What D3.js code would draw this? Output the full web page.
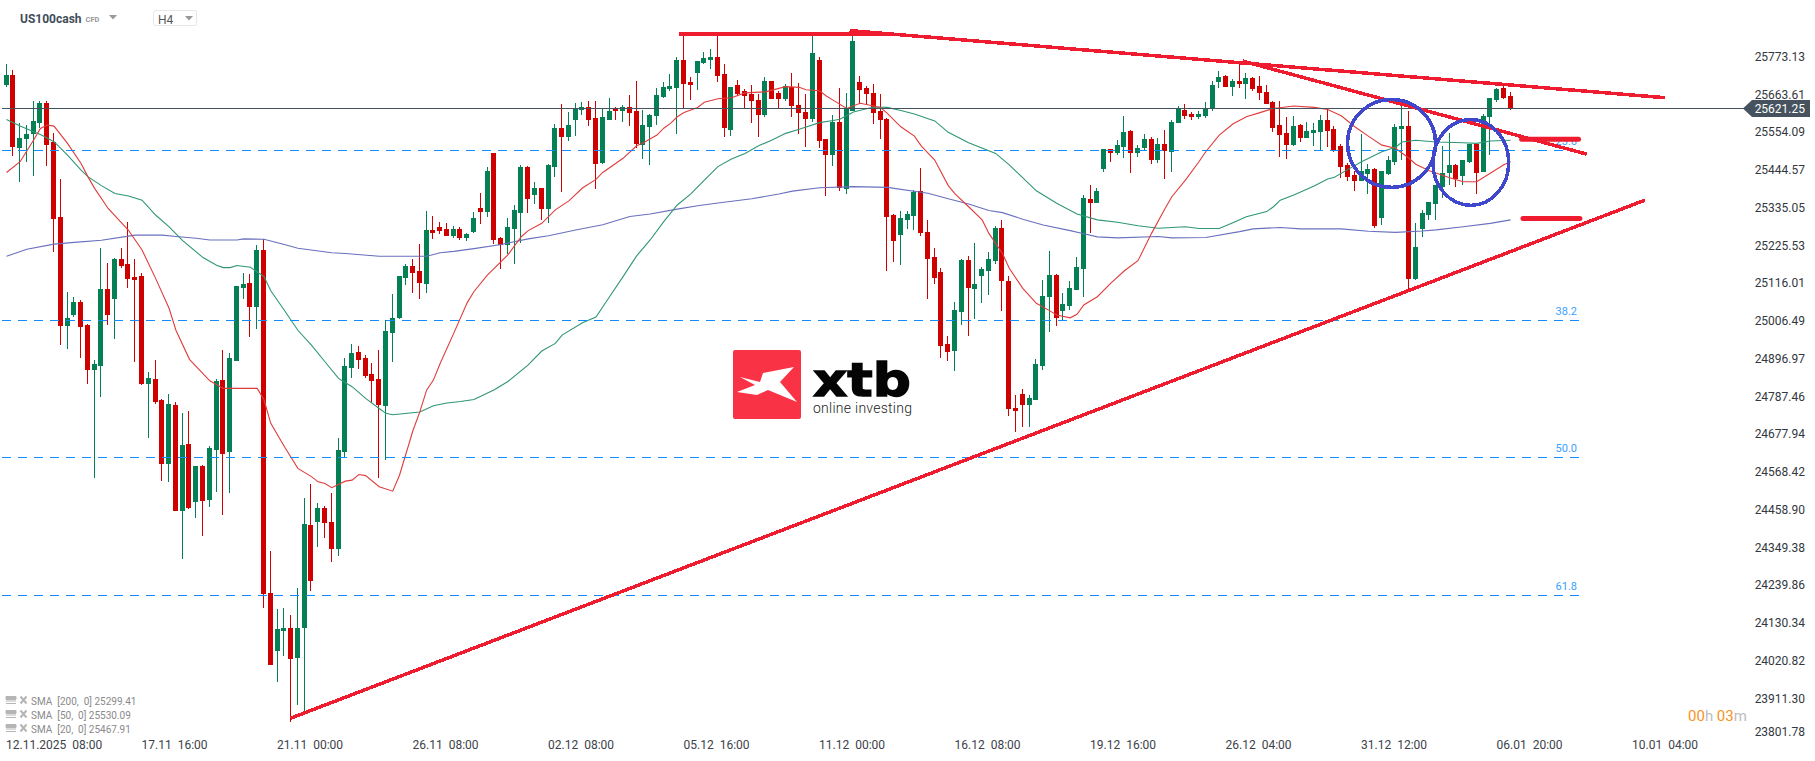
<!DOCTYPE html>
<html>
<head>
<meta charset="utf-8">
<title>US100cash H4</title>
<script src="https://cdnjs.cloudflare.com/ajax/libs/d3/7.8.5/d3.min.js"></script>
<style>
  html, body { margin: 0; padding: 0; background: #fff; }
  svg { display: block; }
  text { font-family: Roboto, sans-serif; }
</style>
</head>
<body>
<div id="chart"></div>
<script>
// candles (one per 4 hours)
var open = [
  25690,25719,25508,25534,25548,25580,25638,25525,25308,24993,
  25025,25063,24996,24866,24878,25100,25071,25187,25173,25135,
  25138,24826,24840,24780,24595,24765,24459,24652,24485,24589,
  24491,24635,24837,24629,24892,25103,25118,25048,25213,24222,
  24054,24112,24121,24034,24121,24418,24427,24468,24427,24349,
  24629,24872,24918,24901,24855,24840,24762,24973,25016,25132,
  25167,25152,25115,25271,25279,25274,25253,25274,25248,25265,
  25334,25323,25493,25248,25227,25274,25320,25453,25372,25392,
  25331,25453,25565,25539,25589,25618,25626,25594,25464,25589,
  25623,25615,25626,25615,25516,25568,25600,25655,25678,25681,
  25762,25698,25724,25753,25762,25771,25722,25560,25690,25672,
  25664,25646,25603,25701,25667,25649,25684,25632,25612,25592,
  25762,25534,25487,25583,25389,25615,25698,25681,25667,25615,
  25592,25314,25256,25300,25311,25383,25265,25193,25149,24941,
  24921,25034,25184,25100,25138,25152,25181,25277,25123,24756,
  24797,24765,24780,24878,25077,25141,25037,25051,25097,25158,
  25360,25349,25447,25505,25493,25511,25557,25493,25508,25534,
  25473,25519,25496,25580,25618,25606,25597,25600,25620,25698,
  25716,25684,25701,25693,25710,25687,25670,25641,25574,25551,
  25516,25574,25536,25551,25554,25589,25563,25514,25459,25430,
  25412,25433,25447,25305,25433,25467,25563,25571,25129,25274,
  25314,25346,25395,25435,25459,25427,25467,25519,25438,25597,
  25646,25681,25658];
var high = [
  25750,25733,25579,25573,25644,25644,25644,25550,25418,25092,
  25077,25068,24999,24895,25219,25175,25190,25219,25294,25187,
  25147,24860,24895,24782,24797,24774,24742,24748,24589,24592,
  24647,24840,24924,24914,25109,25147,25144,25227,25245,24343,
  24176,24179,24158,24236,24496,24537,24482,24473,24511,24670,
  24901,24941,24936,24910,24886,24924,25011,25086,25138,25173,
  25187,25230,25326,25311,25294,25291,25282,25279,25262,25323,
  25378,25453,25493,25250,25305,25343,25459,25455,25409,25392,
  25462,25577,25635,25612,25638,25641,25644,25644,25620,25652,
  25625,25632,25661,25701,25618,25606,25681,25698,25722,25771,
  25834,25713,25759,25785,25794,25834,25750,25684,25704,25678,
  25690,25664,25713,25701,25672,25693,25724,25696,25664,25843,
  25771,25534,25603,25681,25667,25849,25716,25687,25693,25664,
  25594,25317,25326,25326,25386,25450,25300,25219,25161,24965,
  25063,25187,25196,25233,25164,25207,25282,25300,25138,24794,
  24811,24794,24898,25126,25210,25143,25089,25123,25193,25372,
  25401,25392,25505,25505,25531,25600,25560,25516,25548,25539,
  25537,25560,25589,25629,25635,25612,25615,25641,25701,25730,
  25719,25707,25753,25724,25713,25716,25690,25644,25644,25597,
  25600,25576,25583,25580,25603,25620,25571,25519,25463,25441,
  25548,25461,25449,25441,25485,25577,25632,25615,25291,25329,
  25353,25401,25514,25551,25461,25473,25519,25519,25606,25652,
  25681,25690,25669];
var low = [
  25685,25485,25409,25467,25427,25565,25456,25207,24938,24927,
  25019,24901,24826,24555,24789,24996,24956,25161,25103,24889,
  24823,24670,24769,24545,24543,24459,24320,24465,24439,24387,
  24470,24514,24447,24511,24892,25071,24962,24985,24179,24014,
  23965,24040,23850,23898,23874,24228,24355,24381,24311,24329,
  24614,24843,24869,24843,24770,24554,24606,24889,25014,25112,
  25089,25071,25089,25245,25259,25253,25248,25242,25239,25262,
  25288,25308,25230,25158,25201,25173,25233,25320,25346,25300,
  25291,25424,25381,25528,25542,25603,25571,25389,25461,25589,
  25589,25583,25571,25508,25476,25459,25574,25652,25672,25548,
  25623,25646,25675,25750,25736,25698,25539,25542,25658,25623,
  25580,25539,25597,25649,25623,25644,25597,25548,25511,25583,
  25508,25369,25456,25383,25375,25615,25635,25635,25577,25534,
  25152,25178,25170,25274,25271,25253,25071,25115,24901,24892,
  24863,24996,24965,25014,25060,25083,25173,25037,24733,24687,
  24702,24702,24780,24866,24976,24993,25008,25040,25097,25077,
  25262,25349,25438,25467,25487,25479,25435,25482,25499,25461,
  25464,25418,25438,25580,25592,25589,25592,25594,25615,25681,
  25684,25658,25681,25649,25672,25646,25635,25554,25482,25476,
  25513,25525,25536,25513,25502,25511,25496,25421,25412,25383,
  25412,25375,25277,25285,25430,25459,25473,25097,25126,25251,
  25300,25300,25363,25401,25395,25401,25464,25375,25438,25487,
  25641,25649,25617];
var close = [
  25719,25512,25537,25548,25586,25638,25516,25303,24993,25016,
  25063,24990,24866,24884,25100,25025,25187,25167,25129,25126,
  24826,24843,24774,24595,24768,24459,24650,24468,24589,24488,
  24641,24834,24623,24901,25109,25115,25048,25213,24219,24014,
  24118,24121,24031,24121,24421,24257,24468,24424,24349,24635,
  24878,24915,24895,24849,24834,24765,24979,25016,25138,25167,
  25147,25118,25271,25262,25268,25253,25274,25248,25259,25305,
  25323,25441,25242,25227,25279,25329,25453,25360,25392,25331,
  25459,25565,25539,25574,25623,25626,25589,25461,25597,25615,
  25615,25626,25609,25519,25574,25603,25661,25684,25687,25762,
  25693,25690,25759,25768,25771,25716,25565,25684,25664,25658,
  25644,25603,25701,25649,25649,25687,25629,25609,25592,25782,
  25528,25487,25583,25392,25623,25817,25675,25664,25609,25589,
  25308,25239,25305,25317,25381,25262,25187,25132,24936,24918,
  25040,25184,25103,25115,25158,25187,25277,25123,24754,24748,
  24765,24785,24884,25080,25141,25017,25057,25103,25164,25363,
  25349,25383,25505,25493,25516,25554,25493,25508,25534,25473,
  25519,25499,25583,25623,25600,25597,25606,25623,25690,25713,
  25684,25701,25693,25710,25678,25667,25635,25565,25545,25516,
  25571,25536,25557,25560,25589,25557,25502,25453,25424,25412,
  25441,25447,25282,25441,25473,25568,25571,25129,25222,25320,
  25352,25401,25435,25459,25418,25473,25519,25435,25600,25652,
  25678,25652,25621.25];

// moving averages: bar number and value at the points
var sma20Bars = [0,2,4,5,6,7,9,11,12,13,15,18,20,22,24,25,27,30,32,36,37,38,39,41,43,45,46,47,48,50,51,52,53,55,57,58,60,61,62,63,64,66,68,69,71,74,76,77,79,81,83,85,87,88,91,93,94,96,97,98,99,100,102,103,105,107,109,112,115,117,118,120,121,122,124,126,128,129,130,132,134,135,137,139,140,142,144,145,147,148,150,152,154,155,157,158,159,161,163,165,167,169,171,172,174,176,177,179,181,183,185,187,190,193,195,197,199,201,203,205,207,208,210,213,215,217,219,221,222];
var sma20 = [25437,25468,25531,25564,25574,25571,25521,25463,25425,25391,25333,25270,25213,25131,25044,24981,24897,24835,24813,24813,24813,24780,24712,24645,24582,24558,24543,24538,24526,24545,24548,24564,24561,24529,24516,24562,24692,24745,24808,24837,24885,24972,25061,25093,25141,25199,25252,25269,25290,25329,25355,25392,25417,25437,25478,25514,25523,25545,25565,25579,25598,25610,25625,25640,25650,25653,25667,25670,25685,25683,25676,25673,25658,25646,25622,25637,25629,25625,25608,25569,25542,25514,25473,25399,25375,25338,25300,25261,25203,25160,25102,25059,25037,25025,25017,25027,25054,25078,25117,25153,25182,25261,25333,25367,25415,25468,25497,25545,25577,25598,25610,25622,25629,25625,25619,25601,25569,25542,25516,25507,25478,25461,25442,25422,25410,25410,25435,25459,25468];
var sma50Bars = [0,2,4,5,7,9,11,12,14,16,18,20,22,24,26,29,31,32,33,34,36,38,39,41,43,45,47,49,51,53,55,56,57,61,63,65,67,69,72,74,77,79,81,82,85,87,89,91,93,95,97,99,101,103,105,107,109,111,113,115,117,120,122,123,125,128,130,132,134,137,139,142,146,148,152,155,158,161,164,167,170,172,174,176,179,181,183,186,187,188,190,193,195,196,198,200,203,205,206,208,211,215,217,219,222];
var sma50 = [25590,25571,25555,25547,25526,25487,25444,25425,25399,25376,25369,25357,25314,25280,25240,25191,25169,25162,25162,25168,25163,25136,25095,25039,24981,24938,24890,24842,24818,24784,24755,24741,24737,24745,24763,24771,24775,24781,24809,24833,24881,24921,24943,24967,25003,25019,25078,25136,25196,25242,25295,25343,25375,25415,25454,25476,25492,25514,25531,25550,25562,25581,25587,25591,25612,25626,25625,25616,25606,25586,25553,25523,25492,25459,25384,25348,25317,25300,25293,25283,25276,25278,25280,25275,25275,25292,25309,25324,25338,25357,25372,25398,25418,25423,25446,25468,25497,25510,25525,25530,25525,25523,25521,25528,25530];
var sma200Bars = [0,3,7,10,14,18,19,23,25,28,30,34,35,38,41,43,48,50,55,62,64,66,69,73,77,80,84,88,92,95,99,102,105,110,114,116,120,125,130,136,139,142,145,147,150,153,157,159,161,164,170,172,177,182,184,188,191,195,197,201,205,209,211,215,219,222];
var sma200 = [25195,25215,25230,25235,25241,25253,25256,25256,25252,25247,25242,25242,25245,25244,25229,25218,25205,25203,25195,25195,25205,25209,25217,25229,25245,25254,25271,25286,25310,25317,25331,25341,25349,25361,25375,25383,25393,25396,25394,25377,25361,25346,25327,25321,25302,25285,25269,25260,25251,25248,25252,25248,25249,25266,25274,25278,25274,25274,25274,25267,25264,25268,25271,25280,25290,25300];

// axes
var priceTicks = [25773.13,25663.61,25554.09,25444.57,25335.05,25225.53,25116.01,25006.49,24896.97,24787.46,24677.94,24568.42,24458.90,24349.38,24239.86,24130.34,24020.82,23911.30,23801.78];
var lastPrice = 25621.25;
var timeBars = [0,20,40,60,80,100,120,140,160,180,200,220,240];
var timeLabels = ["12.11.2025  08:00","17.11  16:00","21.11  00:00","26.11  08:00","02.12  08:00","05.12  16:00","11.12  00:00","16.12  08:00","19.12  16:00","26.12  04:00","31.12  12:00","06.01  20:00","10.01  04:00"];

// fibonacci levels
var fibLevels = ["23.6","38.2","50.0","61.8"];
var fibPrices = [25501,25010,24614,24215];

// legend rows
var legendNames = ["SMA  [200,  0]","SMA  [50,  0]","SMA  [20,  0]"];
var legendValues = [25299.41,25530.09,25467.91];

// drawings on the chart, in bar number and price
var trendBarsFrom = [99.3,124.5,182.5,42];
var trendPriceFrom = [25837,25847,25759,23860];
var trendBarsTo = [130.4,244.9,233.3,241.9];
var trendPriceTo = [25837,25653,25490,25357];
var markerBarsFrom = [223.7,223.9];
var markerBarsTo = [232.1,232.3];
var markerPrices = [25533,25304];
var circleBars = [204.5,216.2];
var circlePrices = [25521,25466];
var circleBarRadius = [6.5,5.6];
var circlePriceRadius = [127,124];

var width = 1815, height = 761;
var red = "#cf0000", green = "#048054", dash = "#0f8cff";

var svg = d3.select("#chart").append("svg")
  .attr("width", width)
  .attr("height", height);

// one bar is about 6.775 px
var x = d3.scaleLinear().domain([0, 240]).range([6.05, 1632.05]);
var y = d3.scaleLinear().domain([25935.4, 23000]).range([0, 1015.8]);
// the labels on the right sit on their own tighter scale, the last one is pushed up
var yLabels = d3.scaleLinear().domain([25773.13, 23814.9]).range([56.5, 731.7]).clamp(true);

var bars = d3.range(open.length);

// xtb logo sits behind everything
var logo = svg.append("g").attr("transform", "translate(733,350)");
logo.append("rect")
  .attr("width", 68).attr("height", 69).attr("rx", 2)
  .attr("fill", "#f93345");
logo.append("polygon")
  .attr("points", "7,27 27,32 30,23 61,17 47,32 64,52 35,40 24,45 4,42 22,35")
  .attr("fill", "#fff");
logo.append("text")
  .attr("x", 80).attr("y", 46)
  .style("font-family", "'DejaVu Sans'")
  .style("font-weight", "bold")
  .style("font-size", "47px")
  .attr("textLength", 98)
  .attr("lengthAdjust", "spacingAndGlyphs")
  .attr("fill", "#050505")
  .attr("stroke", "#050505")
  .attr("stroke-width", 1.4)
  .text("xtb");
logo.append("text")
  .attr("x", 80).attr("y", 63)
  .style("font-size", "14px")
  .style("font-weight", 300)
  .attr("textLength", 99)
  .attr("fill", "#222")
  .text("online investing");

// wicks
svg.append("g").selectAll("rect")
  .data(bars)
  .enter()
  .append("rect")
  .attr("shape-rendering", "crispEdges")
  .attr("x", function (d) { return Math.floor(x(d)); })
  .attr("y", function (d) { return Math.round(y(high[d])); })
  .attr("width", 1)
  .attr("height", function (d) { return Math.max(1, Math.round(y(low[d])) - Math.round(y(high[d]))); })
  .attr("fill", function (d) { return close[d] >= open[d] ? green : red; });

// bodies
svg.append("g").selectAll("rect")
  .data(bars)
  .enter()
  .append("rect")
  .attr("shape-rendering", "crispEdges")
  .attr("x", function (d) { return Math.floor(x(d)) - 2; })
  .attr("y", function (d) { return Math.round(y(Math.max(open[d], close[d]))); })
  .attr("width", 5)
  .attr("height", function (d) { return Math.max(1, Math.round(y(Math.min(open[d], close[d]))) - Math.round(y(Math.max(open[d], close[d])))); })
  .attr("fill", function (d) { return close[d] >= open[d] ? green : red; });

// moving averages
function drawSma(barList, values, color) {
  var line = d3.line()
    .x(function (d) { return x(barList[d]) + 0.5; })
    .y(function (d) { return y(values[d]); });
  svg.append("path")
    .attr("d", line(d3.range(values.length)))
    .attr("fill", "none")
    .attr("stroke", color)
    .attr("stroke-width", 1.1);
}
drawSma(sma200Bars, sma200, "#6a70bd");
drawSma(sma50Bars, sma50, "#2f9677");
drawSma(sma20Bars, sma20, "#e03c3c");

// fibonacci lines and their labels
svg.append("g").selectAll("line")
  .data(fibPrices)
  .enter()
  .append("line")
  .attr("x1", 2).attr("x2", 1579)
  .attr("y1", function (d) { return Math.round(y(d)) + 0.5; })
  .attr("y2", function (d) { return Math.round(y(d)) + 0.5; })
  .attr("stroke", dash)
  .attr("stroke-width", 1)
  .attr("stroke-dasharray", "9,7");
svg.append("g").selectAll("text")
  .data(fibLevels)
  .enter()
  .append("text")
  .attr("x", 1577)
  .attr("y", function (d, i) { return y(fibPrices[i]) - 5; })
  .attr("text-anchor", "end")
  .attr("fill", "#3aa0ff")
  .style("font-size", "11px")
  .text(function (d) { return d; });

// last price line
var tagY = Math.floor(y(lastPrice)) + 0.5;
svg.append("line")
  .attr("x1", 2).attr("x2", 1745)
  .attr("y1", tagY)
  .attr("y2", tagY)
  .attr("stroke", "#46535e")
  .attr("stroke-width", 1);

// trend lines
svg.append("g").selectAll("line")
  .data(trendBarsFrom)
  .enter()
  .append("line")
  .attr("shape-rendering", "crispEdges")
  .attr("x1", function (d) { return x(d); })
  .attr("y1", function (d, i) { return y(trendPriceFrom[i]); })
  .attr("x2", function (d, i) { return x(trendBarsTo[i]); })
  .attr("y2", function (d, i) { return y(trendPriceTo[i]); })
  .attr("stroke", "#ee1c2e")
  .attr("stroke-width", 3.5);

// the two short thick markers
svg.append("g").selectAll("line")
  .data(markerPrices)
  .enter()
  .append("line")
  .attr("x1", function (d, i) { return x(markerBarsFrom[i]); })
  .attr("x2", function (d, i) { return x(markerBarsTo[i]); })
  .attr("y1", function (d) { return y(d); })
  .attr("y2", function (d) { return y(d); })
  .attr("stroke", "#ee1c2e")
  .attr("stroke-width", 5)
  .attr("stroke-linecap", "round");

// blue circles
svg.append("g").selectAll("ellipse")
  .data(circleBars)
  .enter()
  .append("ellipse")
  .attr("shape-rendering", "crispEdges")
  .attr("cx", function (d) { return x(d); })
  .attr("cy", function (d, i) { return y(circlePrices[i]); })
  .attr("rx", function (d, i) { return x(circleBarRadius[i]) - x(0); })
  .attr("ry", function (d, i) { return y(25000 - circlePriceRadius[i]) - y(25000); })
  .attr("fill", "none")
  .attr("stroke", "#3f48cc")
  .attr("stroke-width", 3.5);

// price axis labels
svg.append("g").selectAll("text")
  .data(priceTicks)
  .enter()
  .append("text")
  .attr("x", 1805)
  .attr("y", function (d) { return yLabels(d) + 4.3; })
  .attr("text-anchor", "end")
  .attr("fill", "#32383e")
  .style("font-size", "12px")
  .text(function (d) { return d.toFixed(2); });

// last price tag
svg.append("path")
  .attr("d", "M1743," + tagY + "L1752," + (tagY - 8.5) + "H1810V" + (tagY + 8.5) + "H1752Z")
  .attr("fill", "#46535e");
svg.append("text")
  .attr("x", 1805)
  .attr("y", tagY + 4.3)
  .attr("text-anchor", "end")
  .attr("fill", "#fff")
  .style("font-size", "12px")
  .text(lastPrice.toFixed(2));

// time axis labels
svg.append("g").selectAll("text")
  .data(timeLabels)
  .enter()
  .append("text")
  .attr("x", function (d, i) { return x(timeBars[i]); })
  .attr("y", 749.3)
  .attr("fill", "#3c4249")
  .style("font-size", "12px")
  .text(function (d) { return d.replace(/ /g, "\u00a0"); });

// countdown
var countdown = svg.append("text")
  .attr("x", 1688).attr("y", 721)
  .style("font-size", "15px");
countdown.append("tspan").attr("fill", "#f7931e").text("00");
countdown.append("tspan").attr("fill", "#bdbdbd").text("h ");
countdown.append("tspan").attr("fill", "#f7931e").text("03");
countdown.append("tspan").attr("fill", "#bdbdbd").text("m");

// indicator legend
var legendRow = svg.append("g").selectAll("g")
  .data(legendNames)
  .enter()
  .append("g")
  .attr("transform", function (d, i) { return "translate(6," + (696 + i * 14) + ")"; });
legendRow.append("path")
  .attr("d", "M0,0.5H10V3.5H0ZM0,5H10M0,7.5H10")
  .attr("fill", "#b5b5b5")
  .attr("stroke", "#b5b5b5")
  .attr("stroke-width", 1);
legendRow.append("path")
  .attr("d", "M14.5,0.5L20.5,7.5M20.5,0.5L14.5,7.5")
  .attr("fill", "none")
  .attr("stroke", "#b5b5b5")
  .attr("stroke-width", 2);
legendRow.append("text")
  .attr("x", 25).attr("y", 9)
  .attr("fill", "#8a8a8a")
  .style("font-size", "10px")
  .text(function (d, i) { return (d + " " + legendValues[i].toFixed(2)).replace(/ /g, "\u00a0"); });

// header with the symbol and the timeframe box
svg.append("text")
  .attr("x", 20).attr("y", 23)
  .attr("fill", "#3f4d59")
  .style("font-size", "12px")
  .style("font-weight", "bold")
  .text("US100cash");
svg.append("text")
  .attr("x", 85.5).attr("y", 22)
  .attr("fill", "#999")
  .style("font-size", "7.5px")
  .style("font-weight", "bold")
  .text("CFD");
svg.append("path")
  .attr("d", "M109,15H117L113,19.5Z")
  .attr("fill", "#999");
svg.append("rect")
  .attr("x", 153.5).attr("y", 10.5)
  .attr("width", 43).attr("height", 15).attr("rx", 2)
  .attr("fill", "#fff")
  .attr("stroke", "#e6e6e6");
svg.append("text")
  .attr("x", 158).attr("y", 24)
  .attr("fill", "#555")
  .style("font-size", "12px")
  .text("H4");
svg.append("path")
  .attr("d", "M185,16H193L189,20.5Z")
  .attr("fill", "#999");
</script>
</body>
</html>
